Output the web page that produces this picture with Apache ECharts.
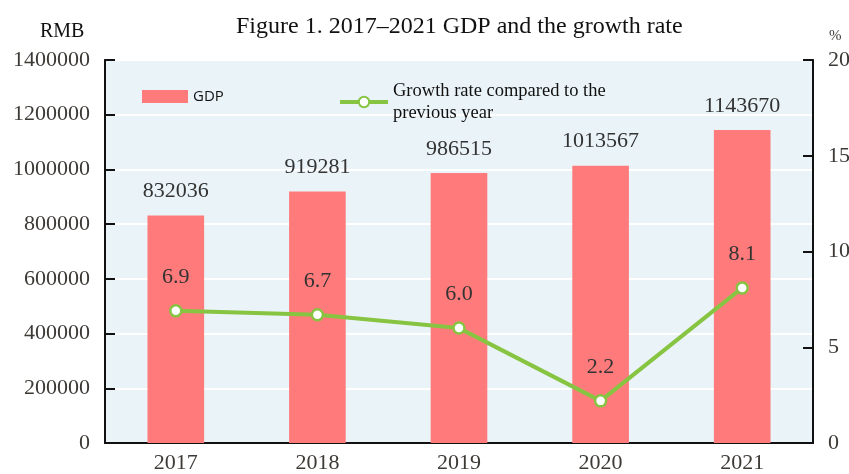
<!DOCTYPE html>
<html>
<head>
<meta charset="utf-8">
<script src="https://cdn.jsdelivr.net/npm/echarts@6/dist/echarts.min.js"></script>
<style>
  html, body { margin: 0; padding: 0; background: #fff; }
  #chart { width: 849px; height: 474px; }
</style>
</head>
<body>
<div id="chart"></div>
<script>
// Annual figures, 2017–2021
const years = ['2017', '2018', '2019', '2020', '2021'];
const gdp = [832036, 919281, 986515, 1013567, 1143670];
const growthRate = [6.9, 6.7, 6.0, 2.2, 8.1];

const gdpName = 'GDP';
const rateName = 'Growth rate compared to the\nprevious year';

const serif = '"Liberation Serif", "Times New Roman", serif';
const labelColor = '#3d3a36';
const green = '#86c441';

const chart = echarts.init(document.getElementById('chart'), null, { renderer: 'canvas' });

chart.setOption({
  animation: false,
  backgroundColor: '#ffffff',
  title: {
    text: 'Figure 1. 2017\u20132021 GDP and the growth rate',
    left: 236,
    top: 15,
    padding: 0,
    textStyle: { fontFamily: serif, fontSize: 24, fontWeight: 'normal', color: '#111' }
  },
  graphic: [
    {
      type: 'text', left: 40, top: 22,
      style: { text: 'RMB', font: '20px ' + serif, fill: '#111' }
    },
    {
      type: 'text', left: 829, top: 29,
      style: { text: '%', font: '15px ' + serif, fill: labelColor }
    }
  ],
  legend: [
    {
      data: [gdpName],
      left: 137, top: 84,
      itemWidth: 46, itemHeight: 13, itemGap: 9,
      icon: 'rect',
      textStyle: { fontFamily: '"Open Sans", "Liberation Sans", sans-serif', fontSize: 15, color: '#111' }
    },
    {
      data: [rateName],
      left: 333, top: 75,
      itemWidth: 48, itemHeight: 13, itemGap: 8,
      lineStyle: { width: 4 },
      textStyle: { fontFamily: serif, fontSize: 18.5, lineHeight: 22, color: '#111' }
    }
  ],
  grid: {
    left: 105, right: 36, top: 60, bottom: 31,
    outerBoundsMode: 'none',
    containLabel: false,
    show: true,
    backgroundColor: '#eaf4f8',
    borderColor: '#333',
    borderWidth: 1.5
  },
  xAxis: {
    type: 'category',
    data: years,
    boundaryGap: true,
    axisLine: { lineStyle: { color: '#111', width: 2 } },
    axisTick: { inside: true, length: 12, lineStyle: { color: '#111', width: 2 } },
    axisLabel: { margin: 9, fontFamily: serif, fontSize: 22, color: labelColor }
  },
  yAxis: [
    {
      type: 'value',
      min: 0, max: 1400000, interval: 200000,
      axisLine: { show: true, lineStyle: { color: '#111', width: 2 } },
      axisTick: { show: true, inside: true, length: 10, lineStyle: { color: '#111', width: 2 } },
      axisLabel: { margin: 15, fontFamily: serif, fontSize: 22, color: labelColor, formatter: v => String(v) },
      splitLine: { show: true, lineStyle: { color: '#ffffff', width: 2 } }
    },
    {
      type: 'value',
      min: 0, max: 20, interval: 5,
      position: 'right',
      axisLine: { show: true, lineStyle: { color: '#111', width: 2 } },
      axisTick: { show: true, inside: true, length: 10, lineStyle: { color: '#111', width: 2 } },
      axisLabel: { margin: 15, fontFamily: serif, fontSize: 22, color: labelColor },
      splitLine: { show: false }
    }
  ],
  series: [
    {
      name: gdpName,
      type: 'bar',
      data: gdp,
      barWidth: '40%',
      itemStyle: { color: '#ff7b7b' },
      label: {
        show: true, position: 'top', distance: 13,
        fontFamily: serif, fontSize: 22, color: '#333'
      },
      z: 2
    },
    {
      name: rateName,
      type: 'line',
      yAxisIndex: 1,
      data: growthRate,
      symbol: 'circle',
      symbolSize: 11,
      lineStyle: { color: green, width: 4 },
      itemStyle: { color: '#ffffff', borderColor: green, borderWidth: 2.5 },
      label: {
        show: true, position: 'top', distance: 16,
        fontFamily: serif, fontSize: 22, color: '#333',
        formatter: p => p.value.toFixed(1)
      },
      z: 3
    }
  ]
});
</script>
</body>
</html>
